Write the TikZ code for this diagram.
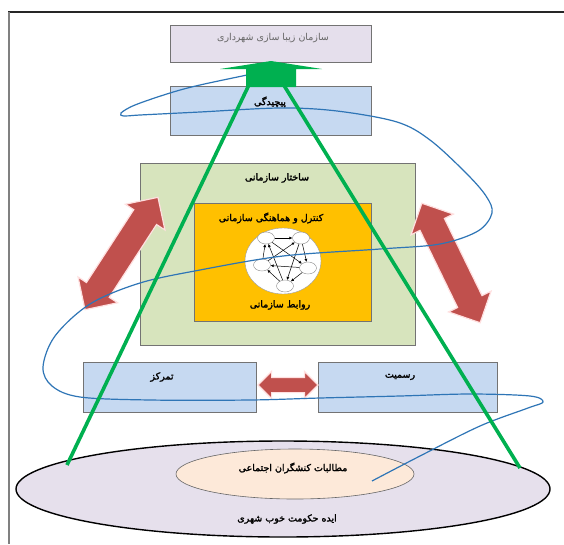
\documentclass[tikz,border=0pt]{standalone}
\usepackage{fontspec}
\usetikzlibrary{arrows.meta,shapes.geometric,shapes.arrows,positioning}
\newfontfamily\arabicfont[Script=Arabic]{DejaVu Sans}
\newfontfamily\arabicbold[Script=Arabic,FakeBold=2]{DejaVu Sans}
\TeXXeTstate=1
\definecolor{toppurple}{RGB}{229,223,236}
\definecolor{lightblue}{RGB}{198,217,241}
\definecolor{lightgreen}{RGB}{215,228,189}
\definecolor{darkorange}{RGB}{255,192,0}
\definecolor{ideapurple}{RGB}{230,224,236}
\definecolor{peach}{RGB}{253,233,217}
\definecolor{arrowred}{RGB}{192,80,77}
\definecolor{curveblue}{RGB}{46,117,182}
\definecolor{linegreen}{RGB}{0,176,80}
\newcommand{\fa}[1]{\arabicbold\beginR #1\endR}

\begin{document}
\begin{tikzpicture}[x=1pt,y=-1pt]
                \tikzstyle{box} = [draw=black!55, line width=0.6pt, inner sep=0pt];
                \tikzstyle{lbl} = [font=\fontsize{9.5}{11}\selectfont, inner sep=1pt];
                \tikzstyle{cell} = [ellipse, draw=black!45, fill=white, minimum width=17pt, minimum height=12pt, inner sep=0pt];
                \tikzstyle{twoway} = [double arrow, fill=arrowred, draw=red!12, line width=1.2pt, inner xsep=0pt, inner ysep=13pt, double arrow head extend=10pt];
                \tikzstyle{greenline} = [draw=linegreen, line width=3.6pt];

                \useasboundingbox (0,0) rectangle (564,544);
                \fill[white] (0,0) rectangle (564,544);
                \draw[line width=1.8pt, black!85] (8,12) -- (564,12);
                \draw[line width=1.2pt, black!50] (9,12) -- (9,544);

                \node[box, fill=toppurple, minimum width=201pt, minimum height=37pt](Top) at (270.5,43.5) {};
                \node[box, fill=lightblue, minimum width=201pt, minimum height=49pt](Pich) at (270.5,110.5) {};
                \node[box, fill=lightgreen, minimum width=275pt, minimum height=182pt](Sakh) at (277.5,254) {};
                \node[box, fill=darkorange, minimum width=177pt, minimum height=118pt](Kont) at (282.5,262) {};
                \node[box, fill=lightblue, minimum width=173pt, minimum height=50pt](Tamr) at (169.5,387) {};
                \node[box, fill=lightblue, minimum width=179pt, minimum height=50pt](Rasm) at (407.5,387) {};
                \node[ellipse, draw=black, line width=1.4pt, fill=ideapurple, minimum width=534pt, minimum height=96pt, inner sep=0pt](Idea) at (283,489) {};
                \node[ellipse, draw=black!60, line width=0.6pt, fill=peach, minimum width=238pt, minimum height=50pt, inner sep=0pt](Mot) at (295,474) {};
                \node[ellipse, draw=black!40, fill=white, minimum width=76pt, minimum height=66pt, inner sep=0pt](Net) at (283,261) {};

                \node[lbl, text=black!60](TopT) at (273,38) {\arabicfont\beginR سازمان زیبا سازی شهرداری\endR};
                \node[lbl](PichT) at (270,102) {\fa{پیچیدگی}};
                \node[lbl](SakhT) at (277,178) {\fa{ساختار سازمانی}};
                \node[lbl](KontT) at (271,218) {\fa{کنترل و هماهنگی سازمانی}};
                \node[lbl](RavT) at (280,305) {\fa{روابط سازمانی}};
                \node[lbl](TamrT) at (162,377) {\fa{تمرکز}};
                \node[lbl](RasmT) at (400,377) {\fa{رسمیت}};
                \node[lbl](MotT) at (293,468) {\fa{مطالبات کنشگران اجتماعی}};
                \node[lbl](IdeaT) at (287,519) {\fa{ایده حکومت خوب شهری}};

                \node[cell](N1) at (266,238) {};
                \node[cell](N2) at (301,238) {};
                \node[cell](N3) at (308,268) {};
                \node[cell](N4) at (285,286) {};
                \node[cell](N5) at (262,265) {};

                \draw[-{Latex[length=3pt,width=3pt]}, line width=0.5pt]
                    (N1) edge (N2)
                    (N2) edge (N3)
                    (N3) edge (N4)
                    (N4) edge (N5)
                    (N5) edge (N1)
                    (N1) edge (N3)
                    (N2) edge (N4)
                    (N3) edge (N5)
                    (N4) edge (N1)
                    (N5) edge (N2)
                ;

                \node[twoway, minimum height=134pt, rotate=57](RedL) at (121.5,253.5) {};
                \node[twoway, minimum height=133pt, rotate=-64](RedR) at (451,263) {};
                \node[twoway, minimum height=60pt, inner ysep=7pt, double arrow head extend=6pt](RedM) at (288,385) {};

                \coordinate (CurveStart) at (372,481);
                \coordinate (CurveEnd) at (252,74);
                \draw[curveblue, line width=1.2pt] plot[smooth, tension=0.55] coordinates {
                    (CurveStart) (420,456) (480,426) (528,408) (543,402) (530,396) (470,394)
                    (400,396) (320,398) (250,400) (150,400) (80,397) (52,386) (43,367)
                    (55,336) (90,304) (140,283) (200,270) (283,256) (380,249) (440,244)
                    (478,231) (492,213) (486,196) (466,173) (430,140) (397,122) (337,111)
                    (280,108) (200,112) (140,115) (124,116) (121,113) (135,105) (170,93)
                    (200,85) (CurveEnd)};

                \coordinate (ApexL) at (258,66);
                \coordinate (ApexR) at (272,66);
                \coordinate (FootL) at (67,465);
                \coordinate (FootR) at (520,468);
                \draw[greenline] (ApexL) -- (FootL);
                \draw[greenline] (ApexR) -- (FootR);
                \fill[linegreen] (220,69) -- (271,61) -- (322,69) -- (296,69) -- (296,87) -- (246,87) -- (246,69) -- cycle;
            \end{tikzpicture}
\end{document}
